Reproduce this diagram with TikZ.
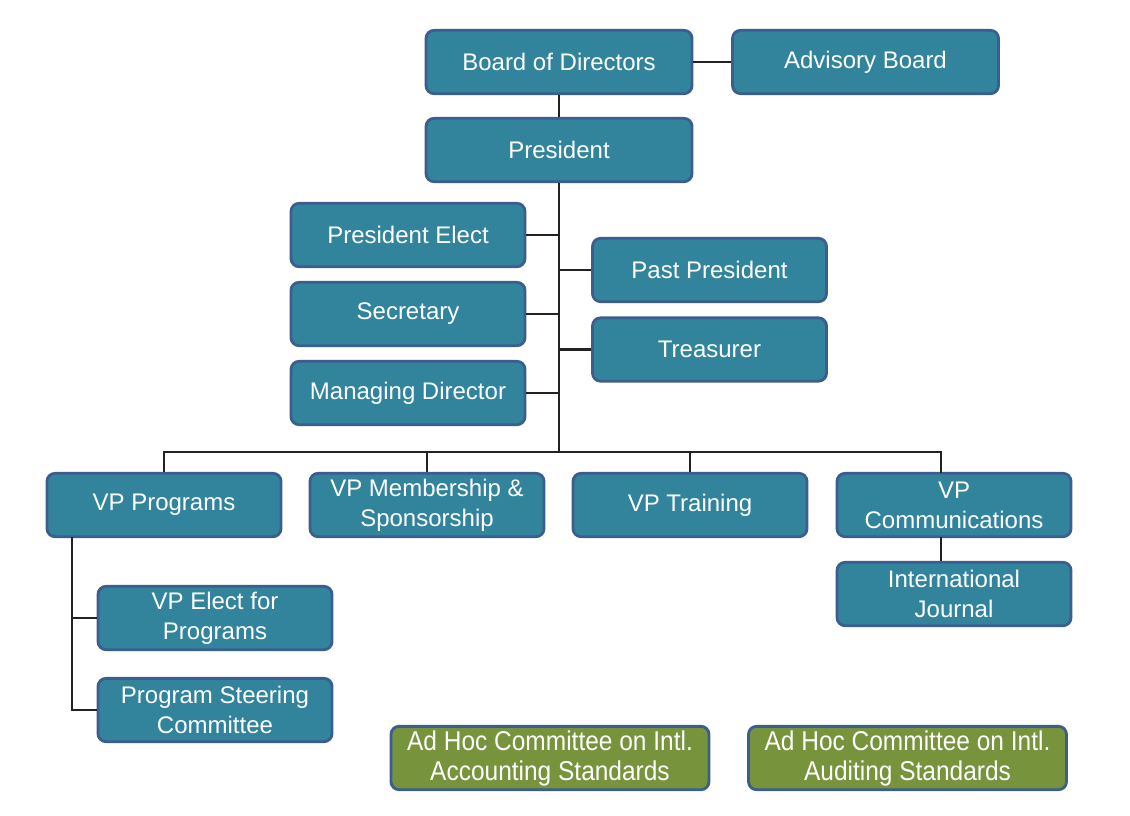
\documentclass[tikz,border=0pt]{standalone}
\usepackage{fontspec}
\setmainfont{Liberation Sans}
\newfontfamily\narrowfont[FakeStretch=0.9]{Liberation Sans}
\definecolor{tealfill}{HTML}{31849B}
\definecolor{boxborder}{HTML}{3B5E8F}
\definecolor{greenfill}{HTML}{77933C}
\definecolor{linecol}{HTML}{222222}
\tikzset{
  orgbox/.style={rectangle, rounded corners=6pt, draw=boxborder, line width=2.1pt,
    fill=tealfill, text=white, align=center, inner sep=0pt,
    minimum width=175.5pt, minimum height=47.5pt,
    font=\fontsize{18pt}{22.5pt}\selectfont},
  topbox/.style={orgbox, minimum width=199.5pt},
  adhoc/.style={orgbox, fill=greenfill, minimum width=238.5pt,
    font=\narrowfont\fontsize{20.4pt}{22.5pt}\selectfont},
  conn/.style={draw=linecol, line width=1.8pt}
}
\begin{document}
\begin{tikzpicture}[x=0.75pt,y=-0.75pt]
\useasboundingbox (0,0) rectangle (1130,815);
% top
\node[topbox] (brd) at (559,62) {Board of Directors};
\node[topbox] (adv) at (865.5,62) {Advisory Board};
\node[topbox] (pres) at (559,150) {President};
% officers
\node[orgbox] (pe) at (408,235) {President Elect};
\node[orgbox] (pp) at (709.5,270) {Past President};
\node[orgbox] (sec) at (408,314) {Secretary};
\node[orgbox] (tre) at (709.5,349.5) {Treasurer};
\node[orgbox] (md) at (408,393) {Managing Director};
% VPs
\node[orgbox] (vpp) at (164,505) {VP Programs};
\node[orgbox] (vpm) at (427,505) {VP Membership \&\\Sponsorship};
\node[orgbox] (vpt) at (690,505) {VP Training};
\node[orgbox] (vpc) at (954,505) {VP\\Communications};
\node[orgbox] (ij) at (954,594) {International\\Journal};
\node[orgbox] (vpe) at (215,618) {VP Elect for\\Programs};
\node[orgbox] (psc) at (215,710) {Program Steering\\Committee};
% ad hoc
\node[adhoc] (ah1) at (550,758) {Ad Hoc Committee on Intl.\\Accounting Standards};
\node[adhoc] (ah2) at (907.5,758) {Ad Hoc Committee on Intl.\\Auditing Standards};
% coordinates
\coordinate (bus) at (559,452);
\coordinate (busR) at (941,452);
\coordinate (vpcTop) at (941,473);
\coordinate (vpcBot) at (941,537);
\coordinate (vppL) at (72,537);
% connectors
\draw[conn] (brd.east) -- (adv.west);
\draw[conn] (brd.south) -- (pres.north);
\draw[conn] (pres.south) -- (bus);
\draw[conn] (pe.east) -- (pe.east -| bus);
\draw[conn] (sec.east) -- (sec.east -| bus);
\draw[conn] (md.east) -- (md.east -| bus);
\draw[conn] (pp.west) -- (pp.west -| bus);
\draw[conn] (tre.west) -- (tre.west -| bus);
\draw[conn] (vpp.north) |- (busR) -- (vpcTop);
\draw[conn] (vpm.north) -- (vpm.north |- bus);
\draw[conn] (vpt.north) -- (vpt.north |- bus);
\draw[conn] (vpcBot) -- (vpcBot |- ij.north);
\draw[conn] (vppL) |- (psc.west);
\draw[conn] (vpe.west) -- (vpe.west -| vppL);
\end{tikzpicture}
\end{document}
